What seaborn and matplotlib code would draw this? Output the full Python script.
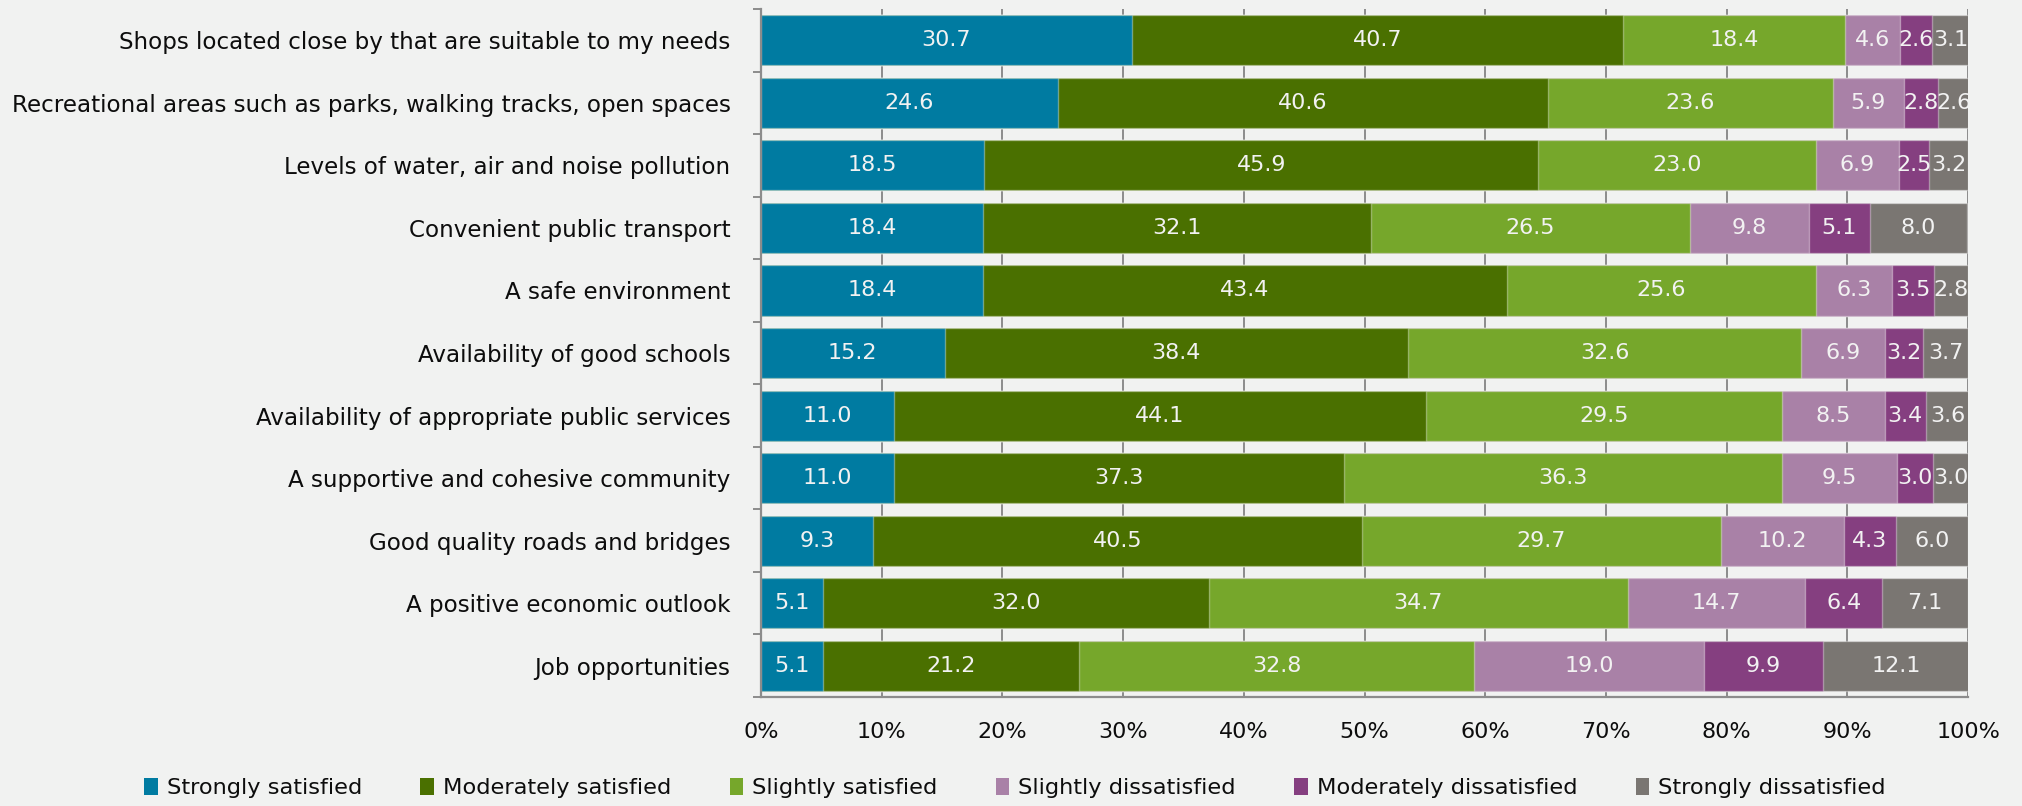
import matplotlib
matplotlib.use("Agg")
import matplotlib.pyplot as plt
from matplotlib.patches import Patch
from matplotlib.ticker import FixedLocator, PercentFormatter
import numpy as np
import pandas as pd
import seaborn as sns

# Survey items, top to bottom
categories = [
    "Shops located close by that are suitable to my needs",
    "Recreational areas such as parks, walking tracks, open spaces",
    "Levels of water, air and noise pollution",
    "Convenient public transport",
    "A safe environment",
    "Availability of good schools",
    "Availability of appropriate public services",
    "A supportive and cohesive community",
    "Good quality roads and bridges",
    "A positive economic outlook",
    "Job opportunities",
]

# Share of respondents (%) per response level
strongly_satisfied = [30.7, 24.6, 18.5, 18.4, 18.4, 15.2, 11.0, 11.0, 9.3, 5.1, 5.1]
moderately_satisfied = [40.7, 40.6, 45.9, 32.1, 43.4, 38.4, 44.1, 37.3, 40.5, 32.0, 21.2]
slightly_satisfied = [18.4, 23.6, 23.0, 26.5, 25.6, 32.6, 29.5, 36.3, 29.7, 34.7, 32.8]
slightly_dissatisfied = [4.6, 5.9, 6.9, 9.8, 6.3, 6.9, 8.5, 9.5, 10.2, 14.7, 19.0]
moderately_dissatisfied = [2.6, 2.8, 2.5, 5.1, 3.5, 3.2, 3.4, 3.0, 4.3, 6.4, 9.9]
strongly_dissatisfied = [3.1, 2.6, 3.2, 8.0, 2.8, 3.7, 3.6, 3.0, 6.0, 7.1, 12.1]

series_names = [
    "Strongly satisfied",
    "Moderately satisfied",
    "Slightly satisfied",
    "Slightly dissatisfied",
    "Moderately dissatisfied",
    "Strongly dissatisfied",
]
colors = ["#007ba1", "#4a7000", "#76a72b", "#a981a7", "#853f80", "#7a7672"]
x_ticks = list(range(0, 101, 10))

df = pd.DataFrame({
    "category": categories,
    series_names[0]: strongly_satisfied,
    series_names[1]: moderately_satisfied,
    series_names[2]: slightly_satisfied,
    series_names[3]: slightly_dissatisfied,
    series_names[4]: moderately_dissatisfied,
    series_names[5]: strongly_dissatisfied,
})
cum = df[series_names].cumsum(axis=1)

bg = "#f1f2f1"
grid_c = "#8c8c8c"
sns.set_theme(style="white")
plt.rcParams["font.family"] = ["DejaVu Sans"]

fig = plt.figure(figsize=(20.22, 8.06), dpi=100, facecolor=bg)
ax = fig.add_axes([0.3764, 0.1352, 0.9733 - 0.3764, 0.9888 - 0.1352])
ax.set_facecolor(bg)

# Stacked bars: draw cumulative totals from the last level back to the first
for name, col in reversed(list(zip(series_names, colors))):
    sns.barplot(x=cum[name], y=df["category"], order=categories, orient="h",
                color=col, saturation=1, width=0.8, ax=ax,
                edgecolor=(1, 1, 1, 0.35), linewidth=1.0)

# Value labels in the middle of each segment
for i, cat in enumerate(categories):
    start = 0.0
    for name in series_names:
        v = df.loc[i, name]
        ax.text(start + v / 2, i, f"{v:.1f}", ha="center", va="center",
                fontsize=16, color="#f2f2f2")
        start += v

ax.set_xlim(0, 100)
ax.set_ylim(len(categories) - 0.5, -0.5)
ax.set_xlabel("")
ax.set_ylabel("")

ax.xaxis.set_major_locator(FixedLocator(x_ticks))
ax.xaxis.set_major_formatter(PercentFormatter(decimals=0))
ax.grid(axis="x", color=grid_c, linewidth=1.4, zorder=0)
ax.set_axisbelow(True)
ax.tick_params(axis="x", which="major", direction="out", length=7, width=1.4,
               color=grid_c, pad=11, labelsize=16, labelcolor="#0d0d0d")

ax.yaxis.set_minor_locator(FixedLocator(np.arange(-0.5, len(categories), 1.0)))
ax.tick_params(axis="y", which="major", length=0, pad=22, labelsize=16.6,
               labelcolor="#0d0d0d")
ax.tick_params(axis="y", which="minor", direction="out", length=6, width=1.4,
               color=grid_c, left=True)

for side in ["top", "right"]:
    ax.spines[side].set_visible(False)
for side in ["left", "bottom"]:
    ax.spines[side].set_color(grid_c)
    ax.spines[side].set_linewidth(1.6)

handles = [Patch(facecolor=c, edgecolor="none", label=n) for n, c in zip(series_names, colors)]
fig.legend(handles=handles, loc="center", bbox_to_anchor=(0.502, 0.022), ncol=6,
           frameon=False, fontsize=16.2, handlelength=0.6, handleheight=0.8,
           handletextpad=0.4, columnspacing=2.6, labelcolor="#0d0d0d")

fig.savefig("out.png", dpi=100, facecolor=bg)
